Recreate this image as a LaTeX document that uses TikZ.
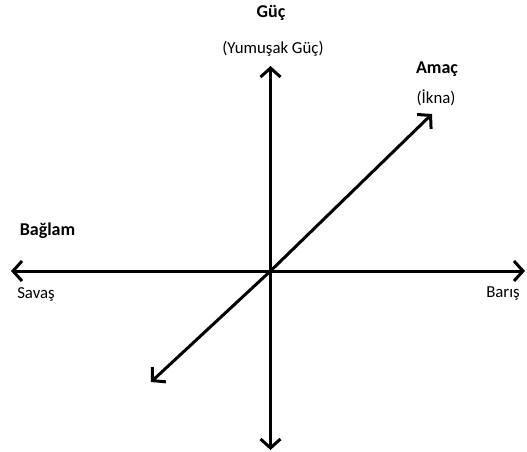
\documentclass[tikz,border=0pt]{standalone}
\usepackage{fontspec}
\setmainfont{Carlito}
\usetikzlibrary{arrows.meta}
\begin{document}
\begin{tikzpicture}[x=1pt,y=-1pt,
  axis/.style={line width=3pt,-{Straight Barb[length=9pt,width=20pt]}},
  title/.style={anchor=base,inner sep=0pt,font=\fontsize{18}{20}\selectfont\bfseries},
  sub/.style={anchor=base,inner sep=0pt,font=\fontsize{16.8}{19}\selectfont}]
\useasboundingbox (0,0) rectangle (527,452);
\coordinate (O) at (270.5,271);
\coordinate (L) at (11,271);
\coordinate (R) at (525,271);
\coordinate (T) at (270.5,66);
\coordinate (B) at (270.5,450);
\coordinate (D1) at (151,382);
\coordinate (D2) at (432,114);
\draw[axis] (O) -- (L);
\draw[axis] (O) -- (R);
\draw[axis] (O) -- (T);
\draw[axis] (O) -- (B);
\draw[axis] (O) -- (D1);
\draw[axis] (O) -- (D2);
\node[title] (guc) at (271,18) {Güç};
\node[sub] (yg) at (273,54) {(Yumuşak Güç)};
\node[title] (amac) at (437,74) {Amaç};
\node[sub] (ikna) at (436,103) {(İkna)};
\node[title] (baglam) at (47.5,235) {Bağlam};
\node[sub] (savas) at (36,298) {Savaş};
\node[sub] (baris) at (503,297) {Barış};
\end{tikzpicture}
\end{document}
